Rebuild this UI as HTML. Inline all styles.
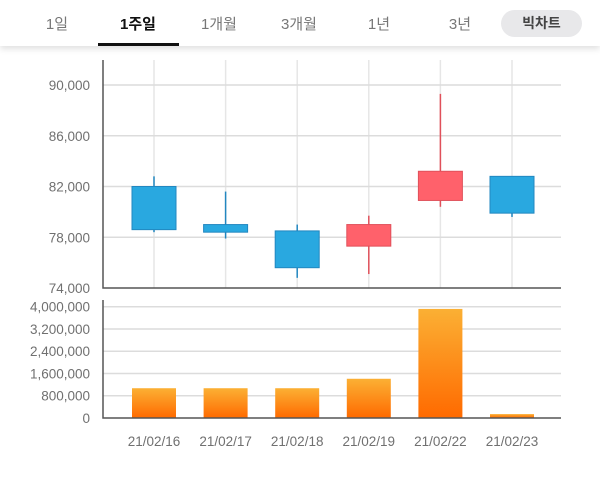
<!DOCTYPE html>
<html><head><meta charset="utf-8">
<style>
body{margin:0;width:600px;height:482px;background:#fff;overflow:hidden;font-family:"Liberation Sans","Noto Sans CJK KR",sans-serif;}
.hdr{position:absolute;left:0;top:0;width:600px;height:46px;background:#fff;box-shadow:0 3px 6px rgba(0,0,0,0.12);}
.tab{position:absolute;top:13px;font-size:15px;color:#777;transform:translateX(-50%);white-space:nowrap;}
.tab.on{color:#111;font-weight:bold;}
.ul{position:absolute;left:98px;top:43px;width:81px;height:3px;background:#111;}
.pill{position:absolute;left:501px;top:10px;width:81px;height:27px;border-radius:14px;background:#e8e8ea;color:#444;font-weight:bold;font-size:14px;text-align:center;line-height:27px;}
svg{position:absolute;left:0;top:0;}
</style></head><body>
<div class="hdr">
<div class="tab" style="left:57px">1일</div>
<div class="tab on" style="left:138px">1주일</div>
<div class="tab" style="left:219px">1개월</div>
<div class="tab" style="left:299px">3개월</div>
<div class="tab" style="left:379px">1년</div>
<div class="tab" style="left:460px">3년</div>
<div class="ul"></div>
<div class="pill">빅차트</div>
</div>
<svg id="c" width="600" height="482"></svg>
<script>
const dates=["21/02/16","21/02/17","21/02/18","21/02/19","21/02/22","21/02/23"];
const openP=[82000,79000,78500,77300,80900,82800];
const closeP=[78600,78400,75600,79000,83200,79900];
const highP=[82800,81600,79000,79700,89300,82800];
const lowP=[78400,77900,74800,75100,80400,79600];
const volumes=[1070000,1070000,1070000,1410000,3920000,140000];
const priceTicks=[74000,78000,82000,86000,90000];
const volTicks=[0,800000,1600000,2400000,3200000,4000000];

const NS="http://www.w3.org/2000/svg";
const svg=document.getElementById('c');
function el(t,a,p){const e=document.createElementNS(NS,t);for(const k in a)e.setAttribute(k,a[k]);(p||svg).appendChild(e);return e;}
const L=103,R=561;
const xc=i=>154+i*71.6;
const yP=v=>288-(v-74000)/16000*203;
const yV=v=>418-v/4000000*111.3;
const fmt=v=>v.toLocaleString('en-US');

// price grid
for(let i=0;i<dates.length;i++){
  const g=el('line',{x1:xc(i),x2:xc(i),y1:60,y2:288,stroke:'#e6e6e6','stroke-width':1.5});
  
  
}
priceTicks.forEach(v=>{
  if(v>74000){const g=el('line',{x1:L,x2:R,y1:yP(v),y2:yP(v),stroke:'#dcdcdc','stroke-width':1.5});
  
  }
  const t=el('text',{x:90,y:yP(v)+5,'text-anchor':'end','font-size':13.5,fill:'#707070'});
  t.textContent=fmt(v);
  
  
});
const ax1=el('path',{d:`M${L} 60V288H${R}`,stroke:'#555',fill:'none','stroke-width':1.5});



// candles
for(let i=0;i<dates.length;i++){
  const up=closeP[i]>=openP[i];
  const fill=up?'#ff616b':'#29a8e0', st=up?'#e0505a':'#2287c0';
  const w=el('line',{x1:xc(i),x2:xc(i),y1:yP(highP[i]),y2:yP(lowP[i]),stroke:st,'stroke-width':1.5});
  
  
  const top=yP(Math.max(openP[i],closeP[i])),bot=yP(Math.min(openP[i],closeP[i]));
  const b=el('rect',{x:xc(i)-22,y:top,width:44,height:Math.max(bot-top,1),fill:fill,stroke:st,'stroke-width':1});
  
  
}

// volume
const defs=el('defs',{});
const gr=el('linearGradient',{id:'vg',x1:0,y1:0,x2:0,y2:1},defs);
el('stop',{offset:'0','stop-color':'#fbb034'},gr);
el('stop',{offset:'1','stop-color':'#ff6a00'},gr);
volTicks.forEach(v=>{
  if(v>0){const g=el('line',{x1:L,x2:R,y1:yV(v),y2:yV(v),stroke:'#dcdcdc','stroke-width':1.5});
  
  }
  const t=el('text',{x:90,y:yV(v)+5,'text-anchor':'end','font-size':13.5,fill:'#707070'});
  t.textContent=fmt(v);
  
  
});
for(let i=0;i<dates.length;i++){
  const b=el('rect',{x:xc(i)-22,y:yV(volumes[i]),width:44,height:418-yV(volumes[i]),fill:'url(#vg)'});
  
  
  const t=el('text',{x:xc(i),y:446,'text-anchor':'middle','font-size':13.5,fill:'#707070'});
  t.textContent=dates[i];
  
  
}
const ax2=el('path',{d:`M${L} 300V418H${R}`,stroke:'#555',fill:'none','stroke-width':1.5});


</script>
</body></html>
